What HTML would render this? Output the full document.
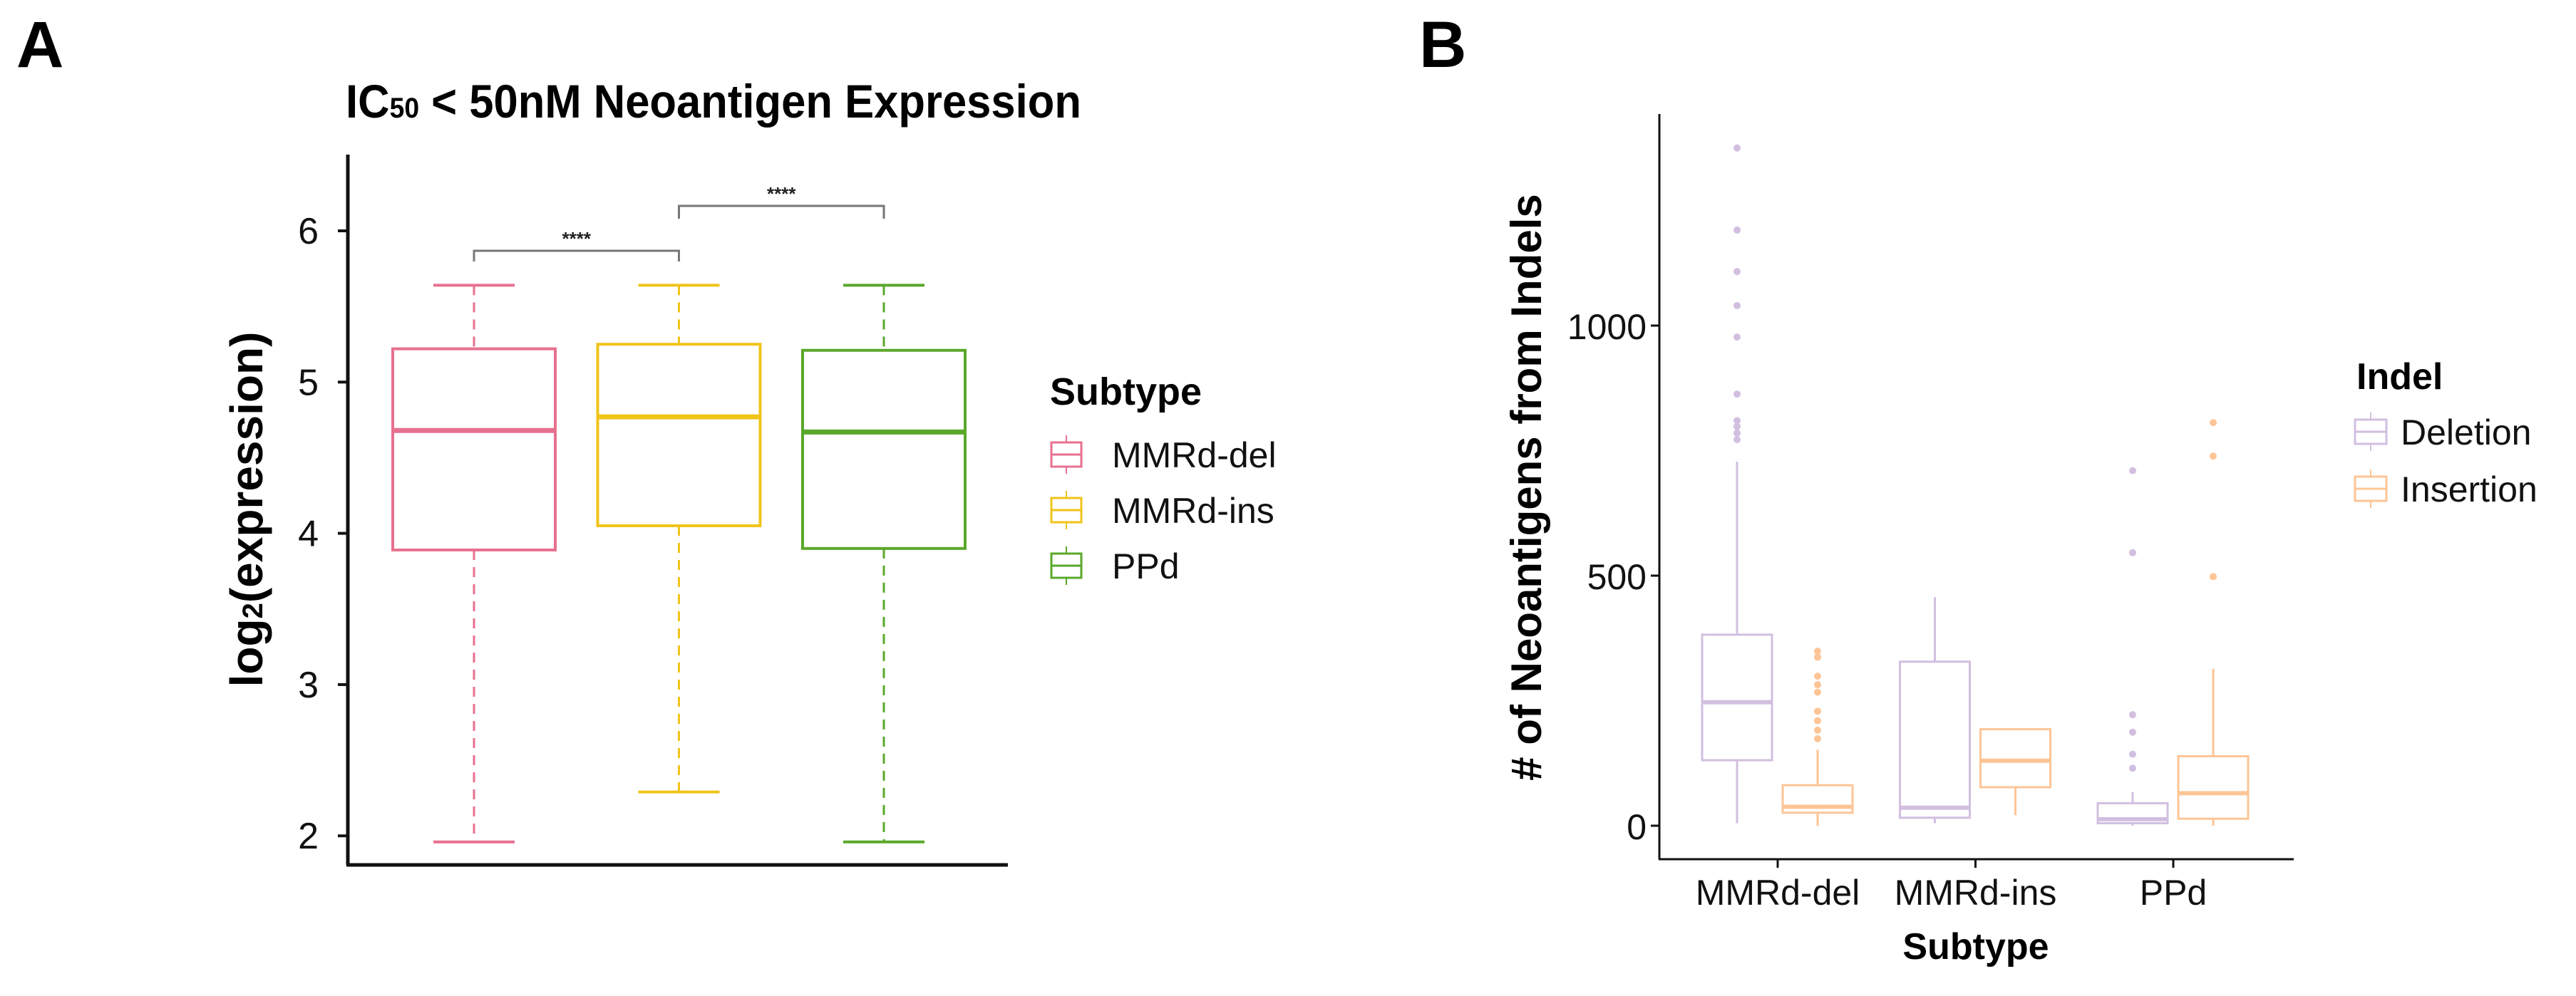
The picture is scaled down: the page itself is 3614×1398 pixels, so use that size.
<!DOCTYPE html>
<html><head><meta charset="utf-8">
<style>
html,body{margin:0;padding:0;background:#fff;}
svg{display:block;font-family:"Liberation Sans",sans-serif;}
</style></head>
<body>
<svg id="fig" width="3614" height="1398" viewBox="0 0 3614 1398" xmlns="http://www.w3.org/2000/svg">
  <text x="23" y="94" font-size="92" font-weight="bold">A</text>
  <text x="485" y="165" font-size="66" font-weight="bold" textLength="1032" lengthAdjust="spacingAndGlyphs">IC<tspan font-size="40">50</tspan> &lt; 50nM Neoantigen Expression</text>
  <text transform="translate(368,715) rotate(-90)" text-anchor="middle" font-size="64" font-weight="bold">log<tspan font-size="40">2</tspan>(expression)</text>
  <g id="gA"></g>
  <text x="1473" y="568" font-size="54" font-weight="bold">Subtype</text>
  <g id="legA"></g>

  <text x="1991" y="94" font-size="92" font-weight="bold">B</text>
  <text transform="translate(2162,684) rotate(-90)" text-anchor="middle" font-size="60" font-weight="bold"># of Neoantigens from Indels</text>
  <text x="2772" y="1346" text-anchor="middle" font-size="52" font-weight="bold">Subtype</text>
  <g id="gB"></g>
  <text x="3306" y="546" font-size="52" font-weight="bold">Indel</text>
  <g id="legB"></g>
</svg>
<script>
// ---------- Panel A data ----------
const aGroups = ["MMRd-del","MMRd-ins","PPd"];
const aLow = [1.96, 2.29, 1.96];
const aQ1 = [3.89, 4.05, 3.90];
const aMed = [4.68, 4.77, 4.67];
const aQ3 = [5.22, 5.25, 5.21];
const aHigh = [5.64, 5.64, 5.64];
const aTicks = [2,3,4,5,6];
const aColors = ["#e8708f","#f0c419","#5aa82a"];
const aSig = ["****","****"];

// ---------- Panel B data ----------
const bGroups = ["MMRd-del","MMRd-ins","PPd"];
const bTypes = ["Deletion","Insertion"];
const bDelLow = [5, 5, 0];
const bDelQ1 = [131, 16, 5];
const bDelMed = [247, 36, 13];
const bDelQ3 = [382, 328, 45];
const bDelHigh = [728, 457, 67];
const bInsLow = [0, 21, 0];
const bInsQ1 = [26, 77, 14];
const bInsMed = [38, 130, 65];
const bInsQ3 = [81, 193, 139];
const bInsHigh = [152, 193, 314];
const bDelOut = [[1355,1191,1108,1040,977,863,810,798,785,772],[],[710,546,222,187,143,115]];
const bInsOut = [[349,337,299,282,267,229,210,191,174],[],[806,739,498]];
const bTicks = [0,500,1000];
const bColors = ["#d2bfe0","#fdc596"];

const NS = "http://www.w3.org/2000/svg";
function mk(parent, tag, attrs){
  const e = document.createElementNS(NS, tag);
  for (const k in attrs) e.setAttribute(k, attrs[k]);
  parent.appendChild(e);
  return e;
}

// ---------- Panel A ----------
const yA = v => 324 + (6 - v) * 212.3;
const xA = i => 665 + i * 287.5;
const gA = document.getElementById('gA');
let ax = mk(gA,'line',{x1:488,y1:217,x2:488,y2:1214,stroke:'#111','stroke-width':5});


ax = mk(gA,'line',{x1:486,y1:1214,x2:1414,y2:1214,stroke:'#111','stroke-width':5});


aTicks.forEach(t=>{
  const tk = mk(gA,'line',{x1:474,y1:yA(t),x2:488,y2:yA(t),stroke:'#111','stroke-width':4});
  
  
  const tl = mk(gA,'text',{x:447,y:yA(t)+18,'text-anchor':'end','font-size':52,fill:'#111'});
  tl.textContent = t;
  
  
});
aGroups.forEach((g,i)=>{
  const c = aColors[i], cx = xA(i), hw = 114, cw = 57;
  const grp = mk(gA,'g',{});
  
  
  mk(grp,'line',{x1:cx,y1:yA(aHigh[i]),x2:cx,y2:yA(aQ3[i]),stroke:c,'stroke-width':3,'stroke-dasharray':'14 10'});
  mk(grp,'line',{x1:cx,y1:yA(aQ1[i]),x2:cx,y2:yA(aLow[i]),stroke:c,'stroke-width':3,'stroke-dasharray':'14 10'});
  mk(grp,'line',{x1:cx-cw,y1:yA(aHigh[i]),x2:cx+cw,y2:yA(aHigh[i]),stroke:c,'stroke-width':4});
  mk(grp,'line',{x1:cx-cw,y1:yA(aLow[i]),x2:cx+cw,y2:yA(aLow[i]),stroke:c,'stroke-width':4});
  mk(grp,'rect',{x:cx-hw,y:yA(aQ3[i]),width:2*hw,height:yA(aQ1[i])-yA(aQ3[i]),fill:'none',stroke:c,'stroke-width':4});
  mk(grp,'line',{x1:cx-hw,y1:yA(aMed[i]),x2:cx+hw,y2:yA(aMed[i]),stroke:c,'stroke-width':7});
});
[[0,1,352,367],[1,2,289,307]].forEach((b,k)=>{
  const grp = mk(gA,'g',{});
  
  
  const x1 = xA(b[0]), x2 = xA(b[1]);
  mk(grp,'polyline',{points:`${x1},${b[3]} ${x1},${b[2]} ${x2},${b[2]} ${x2},${b[3]}`,fill:'none',stroke:'#777','stroke-width':3});
  const s = mk(grp,'text',{x:(x1+x2)/2,y:b[2]-8,'text-anchor':'middle','font-size':26,'font-weight':'bold',fill:'#222'});
  s.textContent = aSig[k];
});
const legA = document.getElementById('legA');
aGroups.forEach((g,i)=>{
  const cy = 638 + i*78, c = aColors[i];
  const e = mk(legA,'g',{});
  
  
  mk(e,'line',{x1:1496,y1:cy-27,x2:1496,y2:cy+27,stroke:c,'stroke-width':2});
  mk(e,'rect',{x:1475,y:cy-17,width:42,height:34,fill:'#fff',stroke:c,'stroke-width':3});
  mk(e,'line',{x1:1475,y1:cy,x2:1517,y2:cy,stroke:c,'stroke-width':3});
  const t = mk(e,'text',{x:1560,y:cy+18,'font-size':50,fill:'#111'});
  t.textContent = g;
});

// ---------- Panel B ----------
const yB = v => 1159 - v * 0.702;
const xB = i => 2494 + i * 277.5;
const gB = document.getElementById('gB');
ax = mk(gB,'line',{x1:2328,y1:160,x2:2328,y2:1206,stroke:'#111','stroke-width':3});


ax = mk(gB,'line',{x1:2327,y1:1206,x2:3218,y2:1206,stroke:'#111','stroke-width':3});


bTicks.forEach(t=>{
  const tk = mk(gB,'line',{x1:2316,y1:yB(t),x2:2328,y2:yB(t),stroke:'#111','stroke-width':3});
  
  
  const tl = mk(gB,'text',{x:2310,y:yB(t)+19,'text-anchor':'end','font-size':50,fill:'#111'});
  tl.textContent = t;
  
  
});
bGroups.forEach((g,i)=>{
  const tk = mk(gB,'line',{x1:xB(i),y1:1206,x2:xB(i),y2:1218,stroke:'#111','stroke-width':3});
  
  
  const tl = mk(gB,'text',{x:xB(i),y:1270,'text-anchor':'middle','font-size':50,fill:'#111'});
  tl.textContent = g;
  
  
});
function drawB(i, off, c, lo, q1, md, q3, hi, outs, name){
  const cx = xB(i) + off, hw = 49;
  const grp = mk(gB,'g',{});
  
  
  mk(grp,'line',{x1:cx,y1:yB(hi),x2:cx,y2:yB(q3),stroke:c,'stroke-width':3});
  mk(grp,'line',{x1:cx,y1:yB(q1),x2:cx,y2:yB(lo),stroke:c,'stroke-width':3});
  mk(grp,'rect',{x:cx-hw,y:yB(q3),width:2*hw,height:Math.max(1,yB(q1)-yB(q3)),fill:'none',stroke:c,'stroke-width':3});
  mk(grp,'line',{x1:cx-hw,y1:yB(md),x2:cx+hw,y2:yB(md),stroke:c,'stroke-width':6});
  outs.forEach(v=>{ mk(grp,'circle',{cx:cx,cy:yB(v),r:5,fill:c}); });
}
bGroups.forEach((g,i)=>{
  drawB(i,-57,bColors[0],bDelLow[i],bDelQ1[i],bDelMed[i],bDelQ3[i],bDelHigh[i],bDelOut[i],'panel-b-box-deletion-'+g.toLowerCase());
  drawB(i,56,bColors[1],bInsLow[i],bInsQ1[i],bInsMed[i],bInsQ3[i],bInsHigh[i],bInsOut[i],'panel-b-box-insertion-'+g.toLowerCase());
});
const legB = document.getElementById('legB');
bTypes.forEach((t,i)=>{
  const cy = 606 + i*80, c = bColors[i];
  const e = mk(legB,'g',{});
  
  
  mk(e,'line',{x1:3326,y1:cy-27,x2:3326,y2:cy+27,stroke:c,'stroke-width':2});
  mk(e,'rect',{x:3304,y:cy-17,width:44,height:34,fill:'#fff',stroke:c,'stroke-width':3});
  mk(e,'line',{x1:3304,y1:cy,x2:3348,y2:cy,stroke:c,'stroke-width':3});
  const tx = mk(e,'text',{x:3368,y:cy+18,'font-size':50,fill:'#111'});
  tx.textContent = t;
});
</script>
</body></html>
